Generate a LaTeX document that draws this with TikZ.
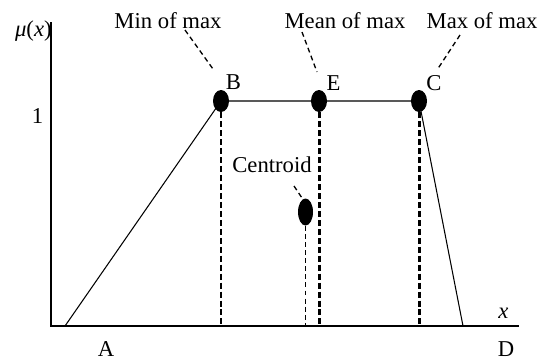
\documentclass[tikz,border=0pt]{standalone}
\usepackage{fontspec}
\setmainfont{Liberation Serif}
\usetikzlibrary{shapes,positioning}

\begin{document}
\begin{tikzpicture}[x=0.02cm, y=-0.02cm,
    font=\fontsize{12.9}{15}\selectfont,
    axis/.style={line width=0.95pt},
    curve/.style={line width=0.6pt},
    dot/.style={ellipse, fill=black, inner sep=0pt, minimum width=0.32cm, minimum height=0.44cm},
    drop/.style={line width=1.7pt, dash pattern=on 3.4pt off 1.7pt},
    thindrop/.style={line width=0.6pt, dash pattern=on 2.8pt off 1.8pt},
    leader/.style={line width=0.75pt, dash pattern=on 2.8pt off 2pt},
    lbl/.style={anchor=base, inner sep=0pt}
  ]
  \useasboundingbox (0,0) rectangle (546,360);

  % axes
  \coordinate (O) at (51,326);
  \coordinate (ytop) at (51,22);
  \coordinate (xend) at (519,326);
  \draw[axis] (ytop) -- (O) -- (xend);

  % membership function
  \coordinate (A) at (65,326);
  \coordinate (D) at (463,326);
  \node[dot] (B) at (221,101) {};
  \node[dot] (E) at (319,101) {};
  \node[dot] (C) at (419,101) {};
  \node[dot, minimum width=0.3cm, minimum height=0.54cm] (cent) at (305.5,212) {};

  \draw[curve] (A) -- (B.center) -- (E.center) -- (C.center) -- (D);

  % drop lines
  \draw[drop] (B.south) -- (B.south |- O);
  \draw[drop] (E.south) -- (E.south |- O);
  \draw[drop] (C.south) -- (C.south |- O);
  \draw[thindrop] (cent.south) -- (cent.south |- O);

  % labels
  \node[inner sep=0pt, anchor=base east] (mulbl) at (52,36) {{\itshape μ}({\itshape x})};
  \node[lbl] (one) at (37.5,123) {1};
  \node[lbl] (xlbl) at (503.5,318) {\itshape x};
  \node[lbl] (Albl) at (106,356) {A};
  \node[lbl] (Dlbl) at (506,356) {D};
  \node[lbl] (Blbl) at (233.5,89) {B};
  \node[lbl] (Elbl) at (333.5,90) {E};
  \node[lbl] (Clbl) at (434,90) {C};
  \node[lbl] (minlbl) at (168,28) {Min of max};
  \node[lbl] (meanlbl) at (345,28) {Mean of max};
  \node[lbl] (maxlbl) at (482,28) {Max of max};
  \node[lbl] (centlbl) at (272,172) {Centroid};

  % leaders
  \coordinate (minfoot) at (185,30);
  \coordinate (minend) at (213,69);
  \coordinate (meanfoot) at (302,32);
  \coordinate (meanend) at (317,72);
  \coordinate (maxfoot) at (460,35);
  \coordinate (maxend) at (437,70);
  \coordinate (centfoot) at (294,186);
  \coordinate (centend) at (302,198);
  \draw[leader] (minfoot) -- (minend);
  \draw[leader] (meanfoot) -- (meanend);
  \draw[leader] (maxfoot) -- (maxend);
  \draw[leader] (centfoot) -- (centend);

\end{tikzpicture}
\end{document}
